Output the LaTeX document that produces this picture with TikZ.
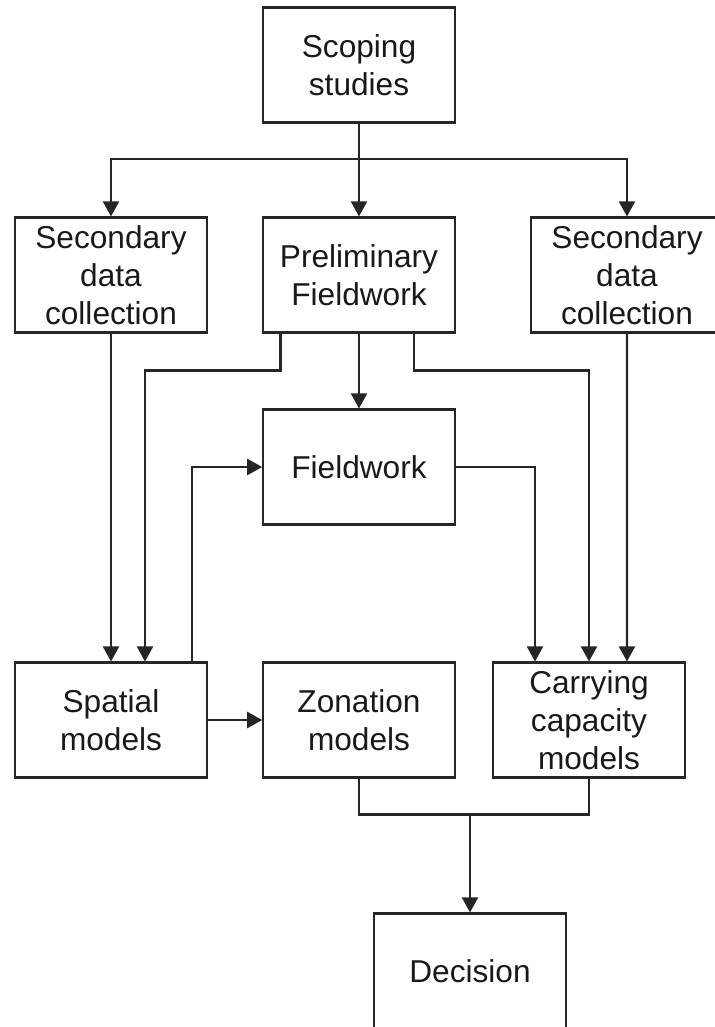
\documentclass[tikz,border=0pt]{standalone}
\usepackage{fontspec}
\setmainfont{Liberation Sans}
\usetikzlibrary{arrows.meta}

\begin{document}
\begin{tikzpicture}[x=0.02cm,y=-0.02cm,line width=1.2pt,draw=black!85,
    font=\fontsize{18}{21.6}\selectfont]
    \tikzset{
        stepbox/.style={draw=black!85,text=black!90,align=center,
            minimum width=3.83cm,minimum height=2.3cm,inner sep=0pt},
        flow/.style={-{Triangle[length=0.3cm,width=0.32cm]}}
    }
    \useasboundingbox (0,0) rectangle (715,1027);

    \node[stepbox] (scope) at (359,65) {Scoping\\studies};
    \node[stepbox] (secl) at (111,275) {Secondary\\data\\collection};
    \node[stepbox] (prelim) at (359,275) {Preliminary\\Fieldwork};
    \node[stepbox] (secr) at (627,275) {Secondary\\data\\collection};
    \node[stepbox] (field) at (359,467) {Fieldwork};
    \node[stepbox] (spatial) at (111,720) {Spatial\\models};
    \node[stepbox] (zonation) at (359,720) {Zonation\\models};
    \node[stepbox] (carry) at (589,720) {Carrying\\capacity\\models};
    \node[stepbox] (decision) at (470,971) {Decision};

    \coordinate (split) at (359,159);
    \coordinate (join) at (470,813);

    % top level
    \draw (scope.south) -- (split);
    \draw[flow] (split) -| (secl.north);
    \draw[flow] (split) -| (secr.north);
    \draw[flow] (split) -- (prelim.north);

    % data and fieldwork
    \draw[flow] (secl) -- (spatial);
    \draw[flow] (prelim) -- (field);
    \draw[flow] ([xshift=0.365cm]prelim.south west) -- ++(0,37)
        -| ([xshift=0.68cm]spatial.north);
    \draw[flow] ([xshift=-0.835cm]prelim.south east) -- ++(0,37)
        -| (carry.north);
    \draw[flow] (secr.south) -- ([xshift=0.76cm]carry.north);
    \draw[flow] (field.east) -| ([xshift=-1.08cm]carry.north);
    \draw[flow] ([xshift=-0.315cm]spatial.north east) |- (field.west);

    % models
    \draw[flow] (spatial) -- (zonation);
    \draw (zonation.south) -- ++(0,36) -| (carry.south);
    \draw[flow] (join) -- (decision.north);
\end{tikzpicture}
\end{document}
